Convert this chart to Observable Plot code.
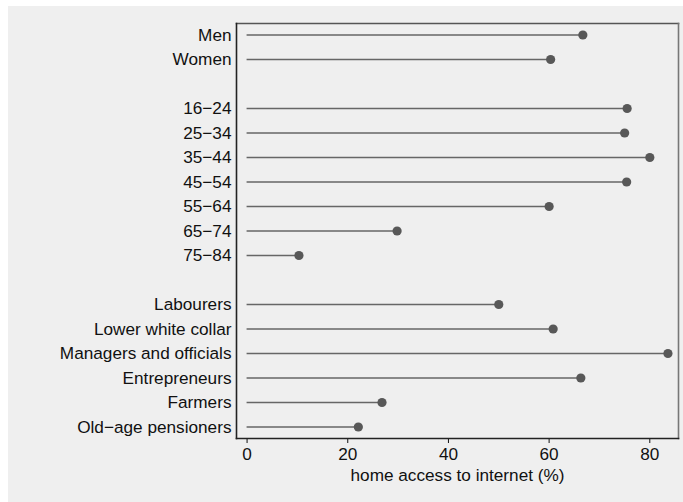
<!DOCTYPE html>
<html>
<head>
<meta charset="utf-8">
<script src="https://cdn.jsdelivr.net/npm/d3@7"></script>
<script src="https://cdn.jsdelivr.net/npm/@observablehq/plot@0.6"></script>
<style>
  html, body { margin: 0; padding: 0; background: #ffffff; }
  #chart { position: absolute; left: 8px; top: 6px; }
  #chart svg { background: #efefef; display: block; }
</style>
</head>
<body>
<div id="chart"></div>
<script>
// Home internet access by sex, age group and social class (%)
const sexLabels = ["Men", "Women"];
const sexValues = [66.7, 60.3];

const ageLabels = ["16−24", "25−34", "35−44", "45−54", "55−64", "65−74", "75−84"];
const ageValues = [75.5, 75.0, 80.0, 75.4, 60.0, 29.8, 10.3];

const classLabels = ["Labourers", "Lower white collar", "Managers and officials",
                     "Entrepreneurs", "Farmers", "Old−age pensioners"];
const classValues = [50.0, 60.8, 83.6, 66.3, 26.8, 22.1];

const xTicks = [0, 20, 40, 60, 80];

// blank rows separate the three groups
const gapA = " ";
const gapB = "  ";

const rows = [
  ...sexLabels.map((label, i) => ({label, value: sexValues[i]})),
  ...ageLabels.map((label, i) => ({label, value: ageValues[i]})),
  ...classLabels.map((label, i) => ({label, value: classValues[i]}))
];

const order = [...sexLabels, gapA, ...ageLabels, gapB, ...classLabels];

const chart = Plot.plot({
  width: 675,
  height: 496,
  marginLeft: 228,
  marginRight: 5,
  marginTop: 17,
  marginBottom: 64,
  style: {
    fontFamily: "'Liberation Sans', Arial, sans-serif",
    fontSize: "17.2px",
    color: "#111",
    background: "#efefef",
    overflow: "visible"
  },
  x: {
    domain: [-2.1, 85.7],
    ticks: xTicks,
    tickSize: 5,
    tickPadding: 4,
    label: "home access to internet (%)",
    labelAnchor: "center",
    labelArrow: "none",
    labelOffset: 42
  },
  y: {
    type: "point",
    domain: order,
    padding: 0.47,
    round: false,
    tickSize: 0,
    tickPadding: 5,
    label: null
  },
  marks: [
    Plot.frame({anchor: "top", stroke: "#555", strokeWidth: 1.6}),
    Plot.frame({anchor: "right", stroke: "#777", strokeWidth: 1.6}),
    Plot.ruleY(rows, {x1: 0, x2: "value", y: "label", stroke: "#666", strokeWidth: 1.4}),
    Plot.dot(rows, {x: "value", y: "label", r: 4.6, fill: "#585858", stroke: "none"}),
    Plot.frame({anchor: "left", stroke: "#222", strokeWidth: 1.6}),
    Plot.frame({anchor: "bottom", stroke: "#222", strokeWidth: 1.6})
  ]
});

document.getElementById("chart").append(chart);
</script>
</body>
</html>
